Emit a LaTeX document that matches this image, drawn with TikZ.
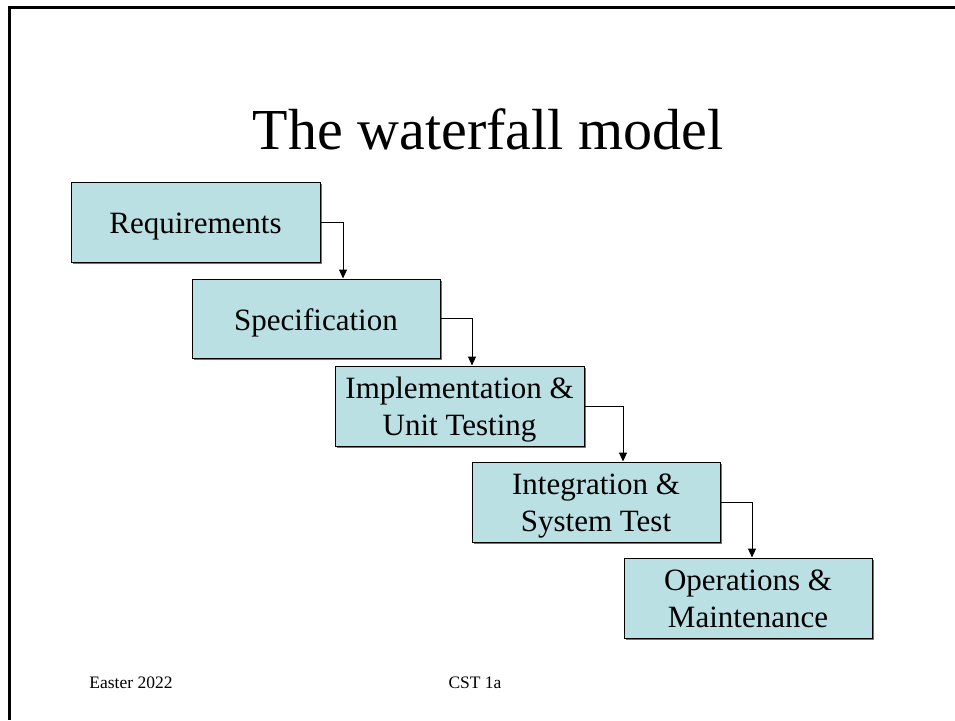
\documentclass[tikz,border=0pt]{standalone}
\usepackage{fontspec}
\setmainfont{Liberation Serif}
\usetikzlibrary{arrows.meta}
\definecolor{boxfill}{HTML}{BBE0E3}
\tikzset{
  stage/.style={draw=black, line width=1pt, fill=boxfill, minimum width=248pt, minimum height=80pt,
    inner sep=0pt, align=center, font=\fontsize{31}{37}\selectfont, text height=29pt, text depth=6pt},
  twoline/.style={text height=65pt, text depth=6pt},
  shade/.style={fill=black!55},
  arr/.style={draw=black, line width=1pt, -{Triangle[length=9pt,width=8pt]}},
  frame/.style={draw=black, line width=3pt},
}
\begin{document}
\begin{tikzpicture}[x=1pt,y=-1pt]
\useasboundingbox (0,0) rectangle (955,720);
\fill[white] (0,0) rectangle (955,720);
% frame
\draw[frame] (9,7.5) -- (955,7.5);
\draw[frame] (9,6) -- (9,720);
% title
\node[anchor=base, font=\fontsize{58}{60}\selectfont, inner sep=0pt] (title) at (488,149) {The waterfall model};
% shadows
\fill[shade] (73,184) rectangle (322,264);
\fill[shade] (194,281) rectangle (442,360);
\fill[shade] (337,368) rectangle (586,448);
\fill[shade] (474,464) rectangle (722,544);
\fill[shade] (626,560) rectangle (874,640);
% boxes
\node[stage, minimum width=249pt] (b1) at (195.5,222) {Requirements};
\node[stage, minimum height=79pt] (b2) at (316,318.5) {Specification};
\node[stage, twoline, minimum width=249pt] (b3) at (459.5,406) {Implementation \&\\Unit Testing};
\node[stage, twoline] (b4) at (596,502) {Integration \&\\System Test};
\node[stage, twoline] (b5) at (748,598) {Operations \&\\Maintenance};
% elbow columns
\coordinate (k1) at (343,0);
\coordinate (k2) at (472,0);
\coordinate (k3) at (623,0);
\coordinate (k4) at (752,0);
\draw[arr] (b1.east) -| (b2.north -| k1);
\draw[arr] (b2.east) -| (b3.north -| k2);
\draw[arr] (b3.east) -| (b4.north -| k3);
\draw[arr] (b4.east) -| (b5.north -| k4);
% footer
\node[anchor=base, font=\fontsize{17.5}{20}\selectfont, inner sep=0pt] (foot1) at (131,688) {Easter 2022};
\node[anchor=base, font=\fontsize{17.5}{20}\selectfont, inner sep=0pt] (foot2) at (475,688) {CST 1a};
\end{tikzpicture}
\end{document}
